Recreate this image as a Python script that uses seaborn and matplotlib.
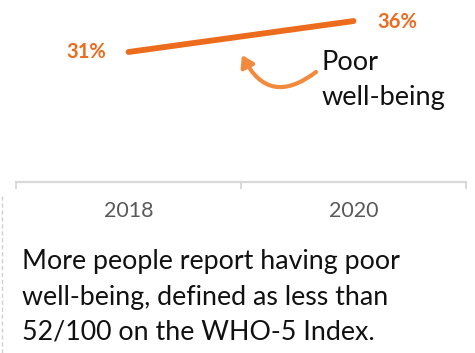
import matplotlib
matplotlib.use("Agg")
import matplotlib.pyplot as plt
import seaborn as sns
import pandas as pd
from matplotlib.lines import Line2D

# Share of respondents with poor well-being (WHO-5 < 52/100)
years = ["2018", "2020"]
poor_wellbeing = [31, 36]
value_labels = ["31%", "36%"]

ORANGE = "#EC6B1C"
ARROW_ORANGE = "#F28A3E"
GRAY_TEXT = "#595959"
AXIS_GRAY = "#D9D9D9"

sns.set_theme(style="white")
plt.rcParams["font.family"] = ["Lato", "DejaVu Sans"]

df = pd.DataFrame({"pos": range(len(years)), "year": years, "value": poor_wellbeing})

fig = plt.figure(figsize=(4.75, 3.53), dpi=100)
ax = fig.add_axes([16 / 475, 171 / 353, 450 / 475, 182 / 353])

sns.lineplot(data=df, x="pos", y="value", ax=ax, color=ORANGE, linewidth=4.2,
             solid_capstyle="round", legend=False)

ax.set_xlim(-0.5, 1.5)
ax.set_ylim(10, 39.4)
ax.set_xlabel("")
ax.set_ylabel("")
ax.set_yticks([])

# category boundaries as tick marks, year names centred between them
ax.set_xticks([-0.5, 0.5, 1.5])
ax.set_xticklabels([])
ax.set_xticks(df["pos"], minor=True)
ax.set_xticklabels(years, minor=True, color=GRAY_TEXT, fontsize=15.5)
ax.tick_params(axis="x", which="major", direction="out", length=5, width=1.4,
               color=AXIS_GRAY, bottom=True)
ax.tick_params(axis="x", which="minor", length=0, pad=14)

for side in ["left", "right", "top"]:
    ax.spines[side].set_visible(False)
ax.spines["bottom"].set_color(AXIS_GRAY)
ax.spines["bottom"].set_linewidth(1.6)

# value labels at each end of the line
ax.annotate(value_labels[0], (df["pos"][0], df["value"][0]), xytext=(-16, 0),
            textcoords="offset points", ha="right", va="center",
            color=ORANGE, fontsize=14.5, fontweight="bold")
ax.annotate(value_labels[1], (df["pos"][1], df["value"][1]), xytext=(17, -1),
            textcoords="offset points", ha="left", va="center",
            color=ORANGE, fontsize=14.5, fontweight="bold")

# series callout with curved arrow
fig.text(322 / 475, 1 - 80 / 353, "Poor\nwell-being", ha="left", va="center",
         fontsize=19.5, color="#111111", linespacing=1.55)
ax.annotate("", xy=(242, 298), xycoords="figure pixels",
            xytext=(316, 281), textcoords="figure pixels",
            arrowprops=dict(arrowstyle="-|>,head_length=0.55,head_width=0.35",
                            color=ARROW_ORANGE, lw=3,
                            connectionstyle="arc3,rad=-0.6",
                            shrinkA=0, shrinkB=0))

# caption below the chart
fig.text(22 / 475, 1 - 297 / 353,
         "More people report having poor\nwell-being, defined as less than\n52/100 on the WHO-5 Index.",
         ha="left", va="center", fontsize=19.3, color="#111111", linespacing=1.5)

# faint dashed frame edge on the left
fig.add_artist(Line2D([1.5 / 475, 1.5 / 475], [0, 1 - 195 / 353],
                      transform=fig.transFigure, color="#D0D0D0", lw=1,
                      linestyle=(0, (3, 2))))

fig.savefig("out.png", dpi=100)
